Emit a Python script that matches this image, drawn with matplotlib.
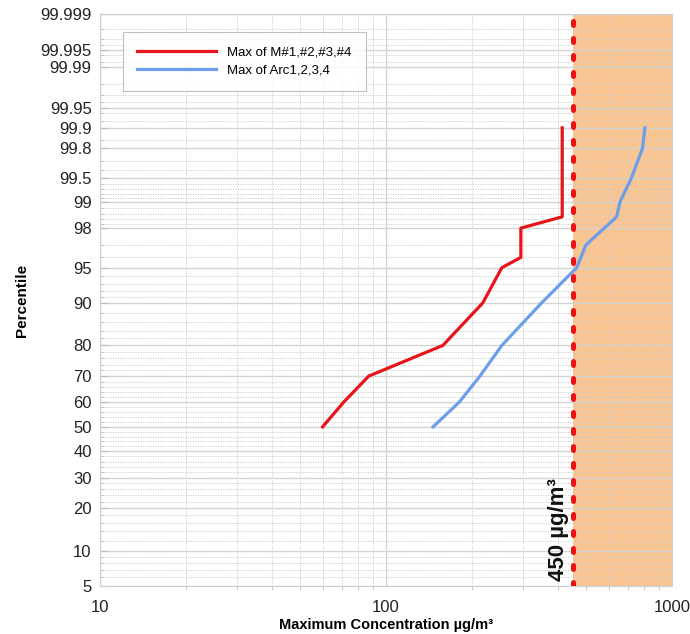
import math
import numpy as np
import matplotlib
matplotlib.use("Agg")
import matplotlib.pyplot as plt
from matplotlib.ticker import FixedLocator, NullFormatter

plt.rcParams['font.family'] = ['Liberation Sans', 'DejaVu Sans']

# data (concentration ug/m3, percentile)
m_conc = [60, 71, 87, 158, 218, 254, 296, 296, 413, 413]
m_pct = [50, 60, 70, 80, 90, 95, 96, 98, 98.5, 99.9]

arc_conc = [146, 180, 213, 254, 350, 464, 500, 640, 658, 722, 788, 804]
arc_pct = [50, 60, 70, 80, 90, 95, 97, 98.5, 99, 99.5, 99.8, 99.9]

limit = 450

y_major = [5, 10, 20, 30, 40, 50, 60, 70, 80, 90, 95, 98, 99, 99.5, 99.8,
           99.9, 99.95, 99.99, 99.995, 99.999]
y_labels = ['5', '10', '20', '30', '40', '50', '60', '70', '80', '90', '95',
            '98', '99', '99.5', '99.8', '99.9', '99.95', '99.99', '99.995',
            '99.999']
y_minor = ([6, 7, 8, 9, 12, 14, 16, 18, 22, 24, 26, 28, 32, 34, 36, 38,
            42, 44, 46, 48, 52, 54, 56, 58, 62, 64, 66, 68, 72, 74, 76, 78,
            82, 84, 86, 88, 91, 92, 93, 94, 96, 97, 98.2, 98.4, 98.6, 98.8,
            99.1, 99.2, 99.3, 99.4, 99.6, 99.7, 99.85, 99.92, 99.94,
            99.96, 99.97, 99.98, 99.992, 99.994, 99.996, 99.997, 99.998])

_erf = np.vectorize(math.erf)


def norm_cdf(z):
    return 0.5 * (1 + _erf(np.asarray(z, dtype=float) / math.sqrt(2)))


def norm_ppf(p):
    p = np.clip(np.asarray(p, dtype=float), 1e-12, 1 - 1e-12)
    z = np.zeros_like(p)
    for _ in range(60):
        f = norm_cdf(z) - p
        d = np.exp(-0.5 * z * z) / math.sqrt(2 * math.pi)
        z = z - f / np.maximum(d, 1e-300)
        z = np.clip(z, -8, 8)
    return z


def forward(v):
    return norm_ppf(np.asarray(v, dtype=float) / 100.0)


def inverse(z):
    return norm_cdf(z) * 100.0


fig = plt.figure(figsize=(6.9, 6.34), dpi=100)
ax = fig.add_axes([0.145, 0.0757, 0.829, 0.902])

ax.set_xscale('log')
ax.set_yscale('function', functions=(forward, inverse))
ax.set_xlim(10, 1000)
ax.set_ylim(5, 99.999)

ax.axvspan(limit, 1000, color='#f9c592', lw=0, zorder=0.5)

ax.yaxis.set_major_locator(FixedLocator(y_major))
ax.set_yticklabels(y_labels)
ax.yaxis.set_minor_locator(FixedLocator(y_minor))
ax.yaxis.set_minor_formatter(NullFormatter())
ax.set_xticks([10, 100, 1000])
ax.set_xticklabels(['10', '100', '1000'])
ax.xaxis.set_minor_formatter(NullFormatter())

ax.grid(which='major', color='#d4d4d4', lw=1.0, ls='-')
ax.grid(which='minor', color='#c8c8c8', lw=0.6, ls=(0, (1.5, 1.5)))

ax.tick_params(which='both', colors='#bdbdbd', labelcolor='#222222', labelsize=12)
ax.tick_params(axis='y', which='major', direction='in', length=6, pad=6)
ax.tick_params(axis='y', which='minor', direction='in', length=3)
ax.tick_params(axis='x', which='major', direction='out', length=0, pad=10)
ax.tick_params(axis='x', which='minor', direction='out', length=3)
for s in ax.spines.values():
    s.set_color('#cfcfcf')

ax.plot(m_conc, m_pct, color='#e8141c', lw=2.3, label='Max of M#1,#2,#3,#4', zorder=3)
ax.plot(arc_conc, arc_pct, color='#6d9eeb', lw=2.3, label='Max of Arc1,2,3,4', zorder=3)

ax.axvline(limit, color='#ee1111', lw=3.6, ls=(0, (0.8, 2.6)),
           dash_capstyle='round', zorder=4)
ax.text(limit * 0.97, 5.6, '450 µg/m³', rotation=90, ha='right', va='bottom',
        fontsize=16, fontweight='bold', color='#111111', zorder=5)

leg = ax.legend(loc='upper left', bbox_to_anchor=(0.028, 0.98), fontsize=9.5,
                frameon=True, fancybox=False, edgecolor='#b0b0b0',
                handlelength=6, borderpad=1.1, labelspacing=0.4)
leg.get_frame().set_linewidth(0.8)

ax.set_xlabel('Maximum Concentration µg/m³', fontsize=10.5, fontweight='bold', labelpad=2)
ax.set_ylabel('Percentile', fontsize=11, fontweight='bold')
ax.yaxis.set_label_coords(-0.125, 0.5)

fig.savefig('out.png', dpi=100)
